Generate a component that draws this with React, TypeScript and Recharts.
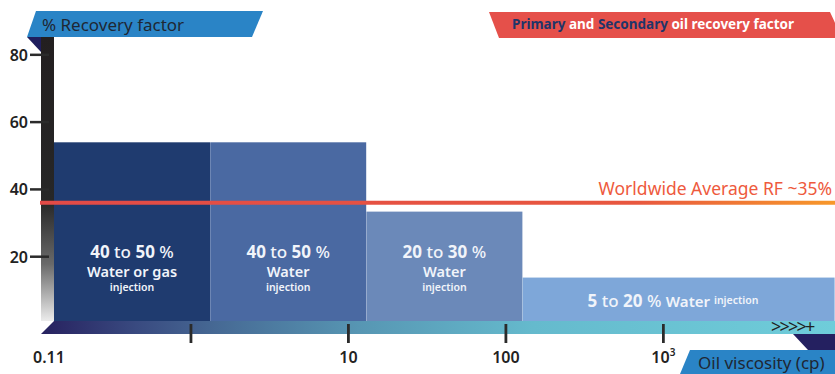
import React from 'react';
import { BarChart, Bar, XAxis, YAxis, ReferenceLine } from 'recharts';

// viscosity slots (one per decade), the last bar spans two slots
const slots = ['0.11-1 cp', '1-10 cp', '10-100 cp', '100-1000 cp', '>1000 cp'];
const slotStart = [0.11, 1, 10, 100, 1000];
const recovery = [54, 54, 33.4, 13.8, null];
const spans = [1, 1, 1, 2, 0];
const lowRF = [40, 40, 20, 5];
const highRF = [50, 50, 30, 20];
const methods = ['Water or gas', 'Water', 'Water', 'Water'];
const barColors = ['#1f3b6f', '#4a69a2', '#6b89b9', '#7ea7d9'];

const worldAverage = 36;
const yTicks = [20, 40, 60, 80];
const viscosityTicks = [0.11, 1, 10, 100, 1000];
const viscosityLabels = ['0.11', '', '10', '100', '10^3'];
const viscosityRange = [0.11, 12300];

// the viscosity axis is logarithmic: work in decades
const logTicks = viscosityTicks.map(v => Math.log10(v));
const logDomain = viscosityRange.map(v => Math.log10(v));

const data = slots.map((slot, i) => ({ slot, visc: Math.log10(slotStart[i]), rf: recovery[i] }));

const FONT = '"Noto Sans", "Open Sans", sans-serif';
const TXT = '#f1f4fa';

const RecoveryBar = (props: any) => {
	const { x, y, width, height, index } = props;
	const span = spans[index];
	if (!span || recovery[index] == null) return null;
	const w = width * span;
	const base = y + height;
	const cx = x + w / 2;
	if (span > 1) {
		return (
			<g>
				<rect x={x} y={y} width={w} height={height - 3} fill={barColors[index]} />
				<text x={x + 65} y={base - 17} fill={TXT} fontFamily={FONT} fontSize={17}>
					<tspan fontWeight={700}>{lowRF[index]}</tspan>
					<tspan fontWeight={500}> to </tspan>
					<tspan fontWeight={700}>{highRF[index]}</tspan>
					<tspan fontWeight={500}> % </tspan>
					<tspan fontSize={15} fontWeight={600}>{methods[index]} </tspan>
					<tspan fontSize={10.5} fontWeight={600} dy={-3}>injection</tspan>
				</text>
			</g>
		);
	}
	return (
		<g>
			<rect x={x} y={y} width={w} height={height - 3} fill={barColors[index]} />
			<text x={cx} y={base - 66} textAnchor="middle" fill={TXT} fontFamily={FONT} fontSize={17}>
				<tspan fontWeight={700}>{lowRF[index]}</tspan>
				<tspan fontWeight={500}> to </tspan>
				<tspan fontWeight={700}>{highRF[index]}</tspan>
				<tspan fontWeight={500}> %</tspan>
			</text>
			<text x={cx} y={base - 47} textAnchor="middle" fill={TXT} fontFamily={FONT} fontSize={14.5} fontWeight={600}>
				{methods[index]}
			</text>
			<text x={cx} y={base - 33} textAnchor="middle" fill={TXT} fontFamily={FONT} fontSize={10.5} fontWeight={600}>
				injection
			</text>
		</g>
	);
};

const YTick = (props: any) => {
	const { x, y, payload } = props;
	return (
		<g>
			<line x1={x - 10} x2={x + 9} y1={y} y2={y} stroke="#2b2b2b" strokeWidth={2.5} />
			<text x={x - 12} y={y + 6} textAnchor="end" fill="#222" fontFamily={FONT} fontSize={16} fontWeight={600}>
				{payload.value}
			</text>
		</g>
	);
};

const XTick = (props: any) => {
	const { x, y, payload } = props;
	let i = -1;
	logTicks.forEach((t, k) => {
		if (Math.abs(t - payload.value) < 1e-6) i = k;
	});
	if (i < 0) return null;
	const label = viscosityLabels[i] || '';
	const [base, sup] = label.split('^');
	const first = i === 0;
	return (
		<g>
			{!first && <line x1={x} x2={x} y1={y} y2={y + 19} stroke="#2b2b2b" strokeWidth={2.8} />}
			<text
				x={first ? x - 7 : x}
				y={y + 39}
				textAnchor={first ? 'start' : 'middle'}
				fill="#222"
				fontFamily={FONT}
				fontSize={16}
				fontWeight={600}
			>
				{base}
				{sup && <tspan fontSize={10} dy={-7}>{sup}</tspan>}
			</text>
		</g>
	);
};

const AverageLabel = (props: any) => {
	const { viewBox } = props;
	return (
		<text
			x={viewBox.x + viewBox.width - 3}
			y={viewBox.y - 8}
			textAnchor="end"
			fill="#ee5a3d"
			fontFamily={FONT}
			fontSize={17.5}
		>
			Worldwide Average RF ~35%
		</text>
	);
};

export default function App() {
	return (
		<div style={{ position: 'absolute', left: 0, top: 0, width: 835, height: 374, overflow: 'hidden', fontFamily: FONT }}>
			<svg width={835} height={374} style={{ position: 'absolute', left: 0, top: 0 }}>
				<defs>
					<linearGradient id="floorGrad" gradientUnits="userSpaceOnUse" x1={41} x2={835} y1={0} y2={0}>
						<stop offset="0" stopColor="#27215f" />
						<stop offset="0.12" stopColor="#394a80" />
						<stop offset="0.22" stopColor="#466994" />
						<stop offset="0.4" stopColor="#5796b3" />
						<stop offset="0.62" stopColor="#65bacd" />
						<stop offset="1" stopColor="#6fcdda" />
					</linearGradient>
					<linearGradient id="yBarGrad" gradientUnits="userSpaceOnUse" x1={0} x2={0} y1={37} y2={321}>
						<stop offset="0" stopColor="#231f20" />
						<stop offset="0.58" stopColor="#272727" />
						<stop offset="0.8" stopColor="#6a6a6a" />
						<stop offset="1" stopColor="#ececec" />
					</linearGradient>
					<linearGradient id="rfLine" gradientUnits="userSpaceOnUse" x1={35} x2={835} y1={0} y2={0}>
						<stop offset="0" stopColor="#e24a47" />
						<stop offset="0.75" stopColor="#e8573f" />
						<stop offset="1" stopColor="#f7982a" />
					</linearGradient>
				</defs>
				<rect x={41} y={37} width={13} height={284} fill="url(#yBarGrad)" />
				<polygon points="54,321 835,321 835,334 41,334" fill="url(#floorGrad)" />
			</svg>
			<div style={{ position: 'absolute', left: 0, top: 0 }}>
				<BarChart width={835} height={374} data={data} margin={{ top: 38, right: 0, bottom: 0, left: 0 }} barCategoryGap={0}>
					<XAxis xAxisId="cat" dataKey="slot" type="category" hide height={0} padding={{ left: 14, right: 0 }} />
					<XAxis
						xAxisId="visc"
						dataKey="visc"
						type="number"
						scale="linear"
						domain={logDomain}
						allowDataOverflow
						ticks={logTicks}
						axisLine={false}
						tickLine={false}
						tickSize={0}
						tickMargin={0}
						tick={<XTick />}
						height={50}
						interval={0}
					/>
					<YAxis
						domain={[0, 85]}
						ticks={yTicks}
						width={40}
						axisLine={false}
						tickLine={false}
						tickSize={0}
						tickMargin={0}
						tick={<YTick />}
						interval={0}
					/>
					<Bar xAxisId="cat" dataKey="rf" shape={<RecoveryBar />} isAnimationActive={false} />
					<ReferenceLine
						xAxisId="visc"
						y={worldAverage}
						stroke="url(#rfLine)"
						strokeWidth={4}
						ifOverflow="extendDomain"
						label={<AverageLabel />}
					/>
				</BarChart>
			</div>
			<svg width={835} height={374} style={{ position: 'absolute', left: 0, top: 0, pointerEvents: 'none' }}>
				<polygon points="36,11 263,11 252,37 27,37" fill="#2a84c6" />
				<polygon points="27,37 41,37 41,52" fill="#1f1e5e" />
				<text x={42} y={31} fill="#1f2733" fontFamily={FONT} fontSize={17}>% Recovery factor</text>
				<polygon points="489,12 830,12 842,38 499,38" fill="#e5504a" />
				<text x={512} y={28.5} fill="#fff" fontFamily={FONT} fontSize={13.5} fontWeight={700}>
					<tspan fill="#1f3569">Primary</tspan> and <tspan fill="#1f3569">Secondary</tspan> oil recovery factor
				</text>
				<text x={771} y={333} fill="#222" fontFamily={FONT} fontSize={18} letterSpacing={-1.8}>{'>>>>+'}</text>
				<polygon points="793,334 835,334 835,350 808,350" fill="#242060" />
				<polygon points="690,350 835,350 835,374 680,374" fill="#2a84c6" />
				<text x={698} y={369} fill="#1f2733" fontFamily={FONT} fontSize={17}>Oil viscosity (cp)</text>
			</svg>
		</div>
	);
}
